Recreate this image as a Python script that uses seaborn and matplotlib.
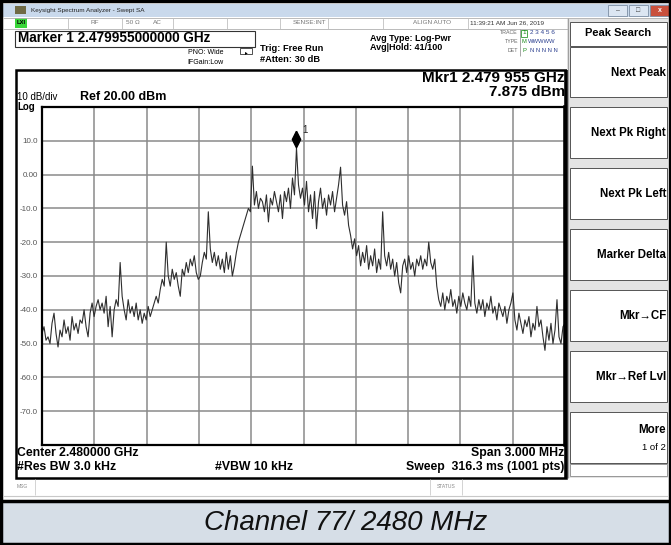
import numpy as np
import pandas as pd
import seaborn as sns
import matplotlib.pyplot as plt
from matplotlib.patches import Rectangle
from matplotlib.transforms import offset_copy

# ----------------------------
# DATA
# ----------------------------
START_GHZ = 2.4785
STOP_GHZ = 2.4815
MARKER_GHZ = 2.479955
MARKER_DBM = 7.875

Y_TICKS = [20, 10, 0, -10, -20, -30, -40, -50, -60, -70, -80]
Y_LABELS = ["", "10.0", "0.00", "-10.0", "-20.0", "-30.0", "-40.0",
            "-50.0", "-60.0", "-70.0", ""]

# trace, roughly one value every 2 px
TRACE_DBM = [
    -47, -45, -49, -48, -50, -44, -41, -47, -51, -46,
    -48, -43, -47, -45, -49, -42, -46, -44, -47, -43,
    -44, -40, -45, -48, -41, -38, -42, -39, -37, -40,
    -38, -41, -36, -45, -39, -48, -40, -37, -39, -26,
    -36, -40, -43, -37, -41, -39, -42, -38, -43, -40,
    -44, -41, -43, -39, -42, -40, -38, -36, -38, -34,
    -31, -33, -20, -30, -33, -28, -31, -29, -33, -36,
    -28, -30, -26, -29, -25, -27, -24, -29, -31, -30,
    -26, -23, -25, -11, -22, -26, -23, -27, -24, -28,
    -25, -29, -23, -28, -24, -30, -27, -23, -20, -18,
    -16, -14, -12, -10, -11, 2.5, -9, -5, -10, -7,
    -8, -11, -6, -14, -7, -9, -5, -8, -11, -6,
    -13, -5, -8, -4, -10, -1, -6, 7.875, -3, -7,
    -4, -9, -2, -11, -6, -13, -5, -16, -8, -4,
    -10, -7, -12, -6, -9, -5, -11, -7, -3, 2.2,
    -9, -12, -8, -15, -18, -22, -19, -24, -21, -27,
    -23, -26, -21, -28, -24, -27, -22, -29, -25, -28,
    -11, -24, -27, -23, -28, -25, -30, -26, -32, -35,
    -27, -25, -29, -24, -28, -26, -30, -25, -27, -24,
    -28, -25, -27, -20, -26, -28, -25, -33, -37, -39,
    -35, -40, -36, -38, -34, -39, -37, -41, -36, -39,
    -35, -38, -40, -36, -39, -24, -38, -41, -37, -40,
    -37, -42, -38, -40, -36, -41, -39, -43, -38, -40,
    -42, -39, -44, -40, -38, -35, -43, -46, -41, -44,
    -47, -43, -45, -42, -48, -44, -46, -39, -45, -43,
    -48, -52, -45, -49, -44, -50, -46, -37, -48, -50,
    -45, -44,
]

SOFTKEYS = ["Next Pk Right", "Next Pk Left", "Marker Delta",
            "Mkr\u2192CF", "Mkr\u2192Ref Lvl"]
SOFTKEY_TOPS = [107, 168, 229, 290, 351]

df = pd.DataFrame({
    "freq": np.linspace(START_GHZ, STOP_GHZ, len(TRACE_DBM)),
    "dbm": TRACE_DBM,
})

# ----------------------------
# STYLE
# ----------------------------
sns.set_theme(style="white")
plt.rcParams["font.family"] = ["Liberation Sans", "DejaVu Sans"]

W, H = 671, 545
fig = plt.figure(figsize=(W / 100, H / 100), dpi=100)
fig.patch.set_facecolor("white")

# background axes in pixel coords (y down)
bg = fig.add_axes([0, 0, 1, 1], zorder=0)
bg.set_xlim(0, W)
bg.set_ylim(H, 0)
bg.axis("off")


def txt(x, y, s, size, ha="left", weight="normal", color="black", **kw):
    bg.text(x, y, s, fontsize=size, ha=ha, va="center",
            fontweight=weight, color=color, **kw)


def box(x, y, w, h, fc="none", ec="black", lw=1.0):
    bg.add_patch(Rectangle((x, y), w, h, facecolor=fc, edgecolor=ec, lw=lw))


def line(x0, y0, x1, y1, color="black", lw=1.0):
    bg.plot([x0, x1], [y0, y1], color=color, lw=lw, solid_capstyle="butt")


# ----------------------------
# WINDOW CHROME
# ----------------------------
box(3, 4, 666, 13, fc="#c9d9ec", ec="none")
box(15, 6, 11, 8, fc="#6f6a45", ec="none")
txt(31, 10.5, "Keysight Spectrum Analyzer - Swept SA", 4.6, color="#222222")
for bx, c in [(608, "#dce6f2"), (629, "#dce6f2"), (650, "#c9503c")]:
    box(bx, 5, 19, 11, fc=c, ec="#7d8ea3", lw=0.6)
txt(617.5, 10.5, "\u2013", 5, ha="center", color="#444444")
txt(638.5, 10.5, "\u25a1", 5, ha="center", color="#444444")
txt(659.5, 10.5, "x", 5, ha="center", color="white", weight="bold")

# status row
line(3, 17.5, 668, 17.5, "#b0b0b0", 0.6)
line(3, 29, 568, 29, "#b0b0b0", 0.6)
box(15, 18, 12, 10, fc="#39d639", ec="none")
txt(21, 23, "LXI", 4.2, ha="center", weight="bold")
for sx in [68, 122, 173, 227, 280, 328, 383, 468, 568]:
    line(sx, 18, sx, 29, "#c0c0c0", 0.6)
txt(95, 23, "RF", 4.6, ha="center", color="#777777")
txt(133, 23, "50 \u03a9", 4.6, ha="center", color="#777777")
txt(157, 23, "AC", 4.6, ha="center", color="#777777")
txt(326, 23, "SENSE:INT", 4.6, ha="right", color="#777777")
txt(451, 23, "ALIGN AUTO", 4.6, ha="right", color="#777777")
txt(470, 23, "11:39:21 AM Jun 26, 2019", 4.6, color="#333333")

# ----------------------------
# HEADER INFO
# ----------------------------
box(15, 31, 240, 16, ec="#333333", lw=0.8)
txt(18, 38.5, "Marker 1 2.479955000000 GHz", 9.8, weight="bold")
txt(188, 52.5, "PNO: Wide", 5.0)
txt(187, 62, "IFGain:Low", 5.0)
box(240, 48, 12, 6, ec="#333333", lw=0.6)
txt(246, 53, "\u25b8", 4, ha="center")
txt(260, 48.5, "Trig: Free Run", 6.7, weight="bold")
txt(260, 60, "#Atten: 30 dB", 6.7, weight="bold")
txt(370, 38.5, "Avg Type: Log-Pwr", 6.5, weight="bold")
txt(370, 47.5, "Avg|Hold: 41/100", 6.5, weight="bold")

txt(518, 33, "TRACE", 3.8, ha="right", color="#666666")
txt(518, 41.5, "TYPE", 3.8, ha="right", color="#666666")
txt(518, 50, "DET", 3.8, ha="right", color="#666666")
line(520, 29, 520, 56, "#999999", 0.6)
box(521, 29.5, 6, 7.5, ec="#2f9a2f", lw=0.6)
txt(522.5, 33, "1", 4.6, color="#1a8a1a")
txt(530, 33, "2 3 4 5 6", 4.6, color="#2b3f8f")
txt(522, 41.5, "M", 4.2, color="#1a8a1a")
txt(528, 41.5, "WWWWW", 4.2, color="#2b3f8f")
txt(522.5, 50, "P", 4.2, color="#1a8a1a")
txt(530, 50, "N N N N N", 4.2, color="#2b3f8f")

# ----------------------------
# MAIN PANEL
# ----------------------------
box(16, 70, 550, 408, ec="black", lw=1.8)
line(565.5, 70, 565.5, 478, "black", 2.6)
txt(565, 77.5, "Mkr1 2.479 955 GHz", 11, ha="right", weight="bold")
txt(565, 92.5, "7.875 dBm", 11, ha="right", weight="bold")
txt(17, 96.5, "10 dB/div", 7.0)
txt(17, 106.5, "Log", 7.0, weight="bold")
txt(80, 97.5, "Ref 20.00 dBm", 9.0, weight="bold")

txt(17, 453, "Center 2.480000 GHz", 8.8, weight="bold")
txt(17, 467, "#Res BW 3.0 kHz", 8.8, weight="bold")
txt(215, 467, "#VBW 10 kHz", 8.8, weight="bold")
txt(564, 453, "Span 3.000 MHz", 8.8, ha="right", weight="bold")
txt(564, 467, "Sweep  316.3 ms (1001 pts)", 8.8, ha="right", weight="bold")

# message bar
line(3, 495.5, 668, 495.5, "#c8c8c8", 0.8)
for sx in [35, 430, 462]:
    line(sx, 479, sx, 495, "#cccccc", 0.6)
txt(17, 487, "MSG", 3.6, color="#888888")
txt(446, 487, "STATUS", 3.6, ha="center", color="#888888")

# ----------------------------
# SOFTKEY PANEL
# ----------------------------
box(567, 18, 101, 460, fc="#e4e4e4", ec="none")
line(568, 18, 568, 478, "#a0a0a0", 0.8)
box(570, 22, 97, 24, fc="white", ec="#555555", lw=0.7)
txt(618.5, 33.5, "Peak Search", 8.0, ha="center", weight="bold")
box(570, 47, 97, 50, fc="white", ec="#555555", lw=0.7)
txt(666, 73, "Next Peak", 8.3, ha="right", weight="bold")
for lbl, top in zip(SOFTKEYS, SOFTKEY_TOPS):
    box(570, top, 97, 51, fc="white", ec="#555555", lw=0.7)
    txt(666, top + 26, lbl, 8.3, ha="right", weight="bold")
box(570, 412, 97, 51, fc="white", ec="#555555", lw=0.7)
txt(666, 430, "More", 8.3, ha="right", weight="bold")
txt(666, 447, "1 of 2", 6.8, ha="right")
box(570, 464, 97, 12, fc="white", ec="#888888", lw=0.6)

# ----------------------------
# OUTER FRAME + CAPTION
# ----------------------------
box(0, 501, W, H - 501, fc="#d6dee7", ec="none")
line(0, 501, W, 501, "black", 2.5)
box(1, 1, W - 2, H - 2, ec="black", lw=2.5)
txt(346, 522.5, "Channel 77/ 2480 MHz", 20, ha="center", style="italic",
    color="#111111")

# ----------------------------
# TRACE AXES
# ----------------------------
left, top, right, bottom = 42, 107, 565, 445
ax = fig.add_axes([left / W, 1 - bottom / H, (right - left) / W,
                   (bottom - top) / H], zorder=2)
ax.set_facecolor("white")

sns.lineplot(data=df, x="freq", y="dbm", ax=ax, color="#2e2e2e",
             lw=0.8, legend=False)

ax.set_xlim(START_GHZ, STOP_GHZ)
ax.set_ylim(-80, 20)
ax.set_xticks(np.linspace(START_GHZ, STOP_GHZ, 11))
ax.set_xticklabels([])
ax.set_yticks(Y_TICKS)
ax.set_yticklabels(Y_LABELS)
ax.tick_params(length=0, labelsize=5.8, labelcolor="#555555", pad=3)
ax.grid(True, color="#8a8a8a", lw=1.1)
ax.set_xlabel("")
ax.set_ylabel("")
for side in ["top", "left", "bottom"]:
    ax.spines[side].set_color("black")
    ax.spines[side].set_linewidth(1.6)
ax.spines["right"].set_color("black")
ax.spines["right"].set_linewidth(2.6)

# marker diamond sitting on the peak
diamond = [(0, 1), (0.5, 0), (0, -1), (-0.5, 0), (0, 1)]
mk_tr = offset_copy(ax.transData, fig=fig, x=0, y=6.5, units="points")
ax.plot([MARKER_GHZ], [MARKER_DBM], marker=diamond, markersize=12,
        color="black", transform=mk_tr, clip_on=False)
ax.annotate("1", (MARKER_GHZ, MARKER_DBM), xytext=(5, 13),
            textcoords="offset points", fontsize=7, ha="left", va="center")

fig.savefig("out.png", dpi=100)
plt.close(fig)
